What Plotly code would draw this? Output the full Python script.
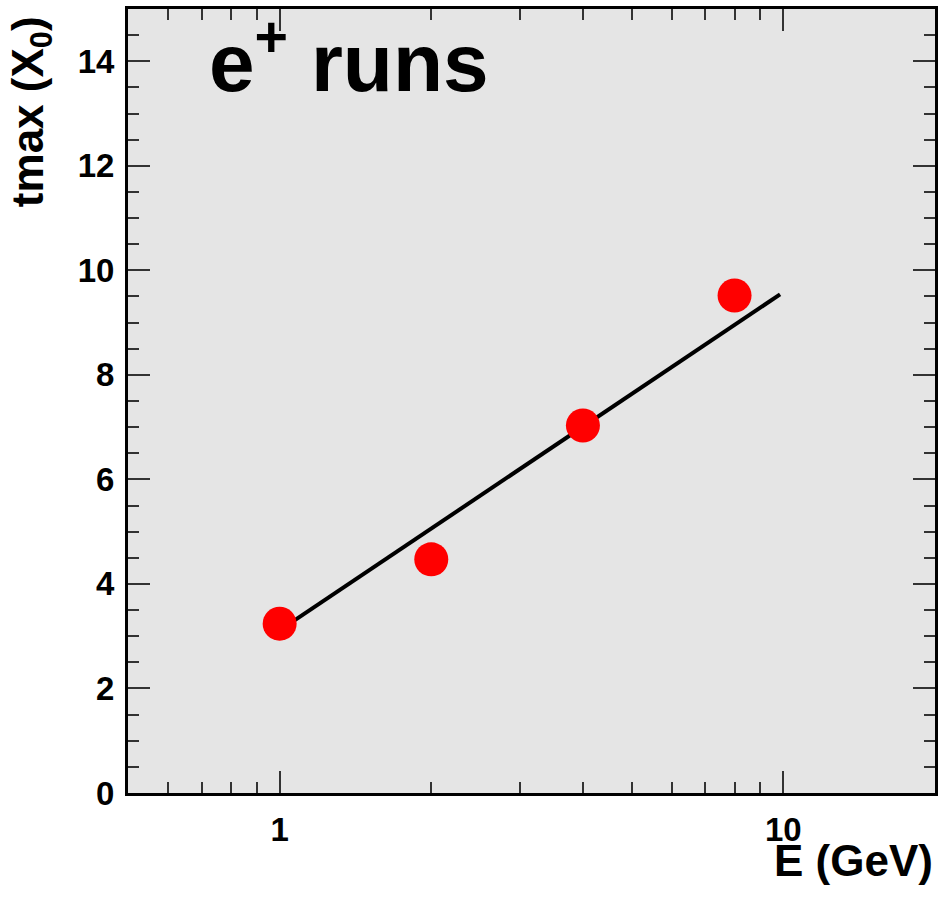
import plotly.graph_objects as go

# Data
energy_gev = [1, 2, 4, 8]
tmax_x0 = [3.24, 4.47, 7.03, 9.52]

# Fitted line (straight in log E), endpoints
fit_energy = [1.01, 9.85]
fit_tmax = [3.14, 9.54]

x_major = [1, 10]
x_major_text = ["1", "10"]
x_minor = [0.5, 0.6, 0.7, 0.8, 0.9, 2, 3, 4, 5, 6, 7, 8, 9, 20]

FONT = "Liberation Sans, Arial, Helvetica, sans-serif"

fig = go.Figure()
fig.add_trace(go.Scatter(
    x=fit_energy, y=fit_tmax, mode="lines",
    line=dict(color="black", width=4), showlegend=False, hoverinfo="skip"))
fig.add_trace(go.Scatter(
    x=energy_gev, y=tmax_x0, mode="markers",
    marker=dict(color="#ff0000", size=34, line=dict(width=0)),
    showlegend=False))

fig.update_layout(
    width=940, height=897,
    margin=dict(l=128, r=5, t=9, b=104, autoexpand=False),
    paper_bgcolor="white", plot_bgcolor="#e5e5e5",
    font=dict(family=FONT, color="black"),
    xaxis=dict(
        type="log", range=[-0.30103, 1.30103], automargin=False,
        tickmode="array", tickvals=x_major, ticktext=x_major_text,
        ticks="inside", ticklen=22, tickwidth=2, tickcolor="#333",
        minor=dict(tickmode="array", tickvals=x_minor, ticks="inside",
                   ticklen=11, tickwidth=2, tickcolor="#333", showgrid=False),
        showline=True, linewidth=3, linecolor="black", mirror="allticks",
        showgrid=False, zeroline=False,
        tickfont=dict(size=33, family=FONT, weight="bold"),
        ticklabelstandoff=5,
    ),
    yaxis=dict(
        range=[0, 15], tickmode="linear", tick0=0, dtick=2, automargin=False,
        ticks="inside", ticklen=22, tickwidth=2, tickcolor="#333",
        minor=dict(dtick=0.5, ticks="inside", ticklen=11, tickwidth=2,
                   tickcolor="#333", showgrid=False),
        showline=True, linewidth=3, linecolor="black", mirror="allticks",
        showgrid=False, zeroline=False,
        tickfont=dict(size=33, family=FONT, weight="bold"),
        ticklabelstandoff=4,
    ),
    annotations=[
        dict(text="<b>E (GeV)</b>", xref="paper", yref="paper",
             x=1.0, y=-0.086, xanchor="right", yanchor="middle",
             showarrow=False, font=dict(size=44, family=FONT)),
        dict(text="<b>tmax (X<sub>0</sub>)</b>", xref="paper", yref="paper",
             x=-0.120, y=0.993, xanchor="center", yanchor="top", textangle=-90,
             showarrow=False, font=dict(size=44, family=FONT)),
        dict(text="<b>e<sup>+</sup> runs</b>", xref="paper", yref="paper",
             x=0.098, y=1.008, xanchor="left", yanchor="top",
             showarrow=False, font=dict(size=82, family=FONT)),
    ],
)

fig.write_html("out.html", config={"displayModeBar": False},
               post_script="document.body.style.margin='0';")
